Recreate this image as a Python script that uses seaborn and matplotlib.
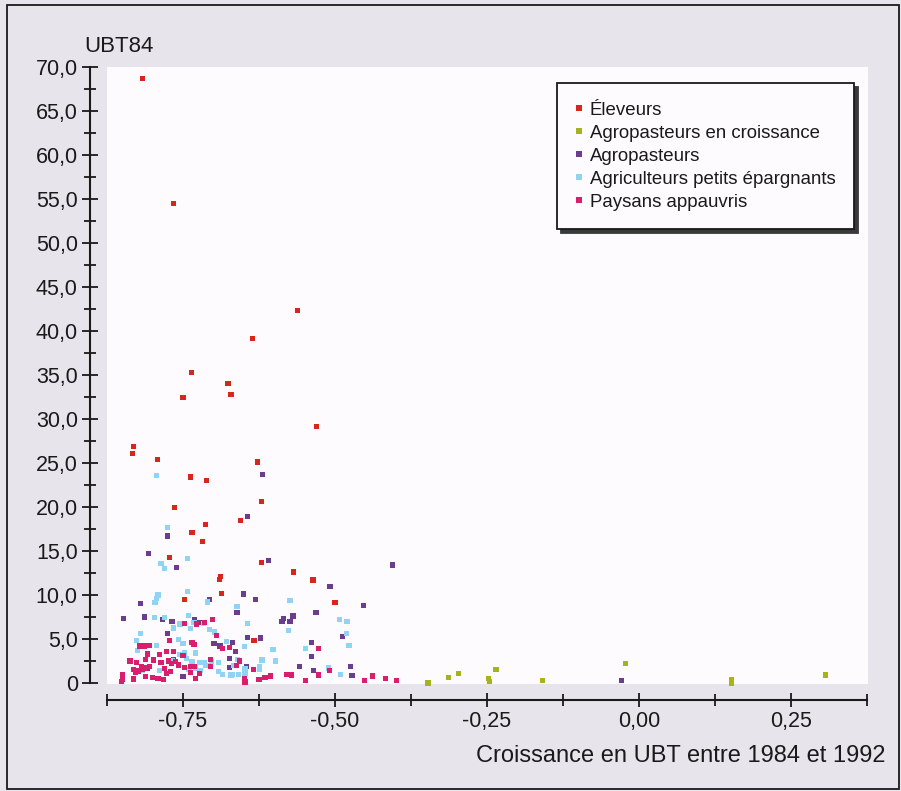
import numpy as np
import pandas as pd
import seaborn as sns
import matplotlib.pyplot as plt
from matplotlib.ticker import MultipleLocator, FuncFormatter
from matplotlib.lines import Line2D
from matplotlib.patches import Rectangle

# === Data ===
groupes = ["Éleveurs", "Agropasteurs en croissance", "Agropasteurs",
           "Agriculteurs petits épargnants", "Paysans appauvris"]
couleurs = ["#d8261c", "#a4b41a", "#6b3d8f", "#8fd3f5", "#da1e6e"]

eleveurs_x = [-0.816, -0.766, -0.562, -0.635, -0.736, -0.676, -0.671, -0.750, -0.530, -0.831,
              -0.833, -0.792, -0.627, -0.738, -0.711, -0.764, -0.621, -0.713, -0.656, -0.735,
              -0.718, -0.772, -0.621, -0.568, -0.536, -0.690, -0.688, -0.687, -0.747, -0.500,
              -0.633]
eleveurs_y = [68.7, 54.5, 42.3, 39.1, 35.3, 34.0, 32.8, 32.4, 29.1, 26.9,
              26.1, 25.4, 25.1, 23.4, 23.0, 19.9, 20.6, 18.0, 18.5, 17.1,
              16.1, 14.3, 13.7, 12.6, 11.7, 11.8, 12.1, 10.2, 9.5, 9.1,
              4.8]

croissance_x = [-0.347, -0.313, -0.297, -0.248, -0.246, -0.235, -0.158, -0.022, 0.152, 0.153, 0.307]
croissance_y = [0.0, 0.6, 1.1, 0.5, 0.2, 1.5, 0.3, 2.2, 0.4, 0.0, 0.9]

agro_x = [-0.619, -0.644, -0.775, -0.807, -0.760, -0.609, -0.508, -0.405, -0.650, -0.707,
          -0.631, -0.453, -0.820, -0.661, -0.531, -0.848, -0.813, -0.784, -0.768, -0.731,
          -0.722, -0.584, -0.587, -0.574, -0.569, -0.775, -0.644, -0.623, -0.488, -0.538,
          -0.538, -0.558, -0.535, -0.475, -0.472, -0.646, -0.664, -0.669, -0.674, -0.689,
          -0.699, -0.673, -0.766, -0.808, -0.750, -0.029]
agro_y = [23.7, 18.9, 16.7, 14.7, 13.1, 13.9, 11.0, 13.4, 10.1, 9.5,
          9.5, 8.8, 9.0, 8.0, 8.0, 7.3, 7.5, 7.2, 7.0, 7.2,
          6.9, 7.3, 7.0, 7.0, 7.6, 5.6, 5.2, 5.1, 5.3, 4.6,
          3.0, 1.9, 1.4, 1.9, 0.85, 1.9, 3.6, 4.6, 2.8, 4.2,
          4.5, 1.8, 2.7, 1.6, 0.7, 0.3]

epargnants_x = [-0.794, -0.775, -0.743, -0.786, -0.780, -0.743, -0.791, -0.793, -0.796, -0.710,
                -0.574, -0.661, -0.797, -0.780, -0.741, -0.732, -0.716, -0.755, -0.644, -0.492,
                -0.480, -0.577, -0.766, -0.738, -0.707, -0.698, -0.820, -0.481, -0.477, -0.678,
                -0.649, -0.548, -0.602, -0.620, -0.598, -0.660, -0.667, -0.669, -0.658, -0.648,
                -0.648, -0.624, -0.624, -0.510, -0.491, -0.826, -0.758, -0.750, -0.793, -0.825,
                -0.756, -0.748, -0.744, -0.729, -0.816, -0.768, -0.735, -0.722, -0.714, -0.740,
                -0.729, -0.722, -0.789, -0.712, -0.703, -0.692, -0.691, -0.685, -0.671]
epargnants_y = [23.6, 17.7, 14.1, 13.6, 13.0, 10.4, 10.0, 9.6, 9.1, 9.2,
                9.4, 8.7, 7.4, 7.4, 7.7, 6.9, 6.8, 6.7, 6.8, 7.2,
                7.0, 6.0, 6.25, 6.2, 6.1, 5.8, 5.6, 5.6, 4.3, 4.7,
                4.1, 3.9, 3.8, 2.6, 2.5, 2.7, 2.0, 1.0, 1.0, 1.6,
                1.1, 1.9, 1.5, 1.7, 1.0, 4.85, 4.9, 4.5, 4.3, 3.7,
                3.2, 3.4, 2.8, 3.4, 1.4, 2.5, 2.4, 2.35, 2.35, 1.5,
                1.7, 1.4, 1.4, 2.0, 2.4, 2.3, 1.3, 0.95, 0.9]

paysans_x = [-0.747, -0.728, -0.715, -0.702, -0.695, -0.685, -0.674, -0.772, -0.735, -0.732,
             -0.822, -0.813, -0.805, -0.808, -0.788, -0.777, -0.766, -0.750, -0.837, -0.826,
             -0.818, -0.811, -0.805, -0.798, -0.786, -0.774, -0.769, -0.762, -0.757, -0.747,
             -0.738, -0.731, -0.723, -0.738, -0.831, -0.828, -0.823, -0.817, -0.812, -0.780,
             -0.777, -0.771, -0.850, -0.850, -0.851, -0.831, -0.812, -0.800, -0.791, -0.782,
             -0.730, -0.705, -0.705, -0.662, -0.657, -0.649, -0.648, -0.634, -0.625, -0.615,
             -0.606, -0.579, -0.572, -0.549, -0.527, -0.527, -0.509, -0.451, -0.438, -0.417,
             -0.399]
paysans_y = [6.8, 6.7, 6.85, 7.2, 5.4, 3.9, 4.0, 4.85, 4.6, 4.4,
             4.2, 4.2, 4.3, 3.3, 3.2, 3.6, 3.6, 3.1, 2.5, 2.35,
             1.85, 2.7, 1.9, 2.6, 2.3, 2.5, 2.2, 2.4, 2.05, 1.8,
             1.9, 1.85, 1.1, 1.2, 1.55, 1.2, 1.35, 1.5, 1.7, 1.6,
             1.1, 1.3, 0.9, 0.4, 0.15, 0.45, 0.7, 0.6, 0.5, 0.4,
             0.5, 2.7, 1.9, 2.0, 2.5, 0.5, 0.1, 1.5, 0.4, 0.6,
             0.8, 1.0, 0.9, 0.3, 3.9, 0.9, 1.4, 0.3, 0.8, 0.5,
             0.3]

series = [(eleveurs_x, eleveurs_y), (croissance_x, croissance_y), (agro_x, agro_y),
          (epargnants_x, epargnants_y), (paysans_x, paysans_y)]
df = pd.concat([pd.DataFrame({"x": sx, "y": sy, "groupe": g})
                for g, (sx, sy) in zip(groupes, series)], ignore_index=True)

# === Style ===
sns.set_style("white")
plt.rcParams["font.family"] = ["Liberation Sans", "DejaVu Sans"]
fond = "#e7e4eb"
encre = "#1a1a1a"

fig = plt.figure(figsize=(9.01, 7.91), dpi=100, facecolor=fond)
ax = fig.add_axes([107 / 901, 1 - 684 / 791, 761 / 901, 617 / 791])
ax.set_facecolor("#fdfbfd")

sns.scatterplot(data=df, x="x", y="y", hue="groupe", hue_order=groupes,
                palette=dict(zip(groupes, couleurs)), marker="s", s=14,
                linewidth=0, legend=False, ax=ax, clip_on=False)

ax.set_xlim(-0.875, 0.377)
ax.set_ylim(-0.12, 70)
sns.despine(ax=ax, offset={"left": 12, "bottom": 11.5})
ax.spines["left"].set_bounds(0, 70)
ax.spines["bottom"].set_bounds(-0.875, 0.375)
for s in ("left", "bottom"):
    ax.spines[s].set_linewidth(1.5)
    ax.spines[s].set_color(encre)

ax.xaxis.set_major_locator(MultipleLocator(0.25))
ax.xaxis.set_minor_locator(MultipleLocator(0.125))
ax.yaxis.set_major_locator(MultipleLocator(5))
ax.yaxis.set_minor_locator(MultipleLocator(2.5))
ax.xaxis.set_major_formatter(FuncFormatter(lambda v, p: f"{v:.2f}".replace(".", ",").replace("-0,00", "0,00")))
ax.yaxis.set_major_formatter(FuncFormatter(lambda v, p: "0" if abs(v) < 1e-9 else f"{v:.1f}".replace(".", ",")))
ax.tick_params(which="both", bottom=True, left=True, top=False, right=False)
ax.tick_params(which="major", direction="inout", length=12, width=1.3, color=encre,
               labelsize=15.5, labelcolor=encre, pad=3)
ax.tick_params(which="minor", direction="inout", length=8, width=1.3, color=encre)
ax.tick_params(axis="x", which="major", length=10)
ax.set_xlabel("")
ax.set_ylabel("")

fig.text(84 / 901, 1 - 47 / 791, "UBT84", ha="left", va="center", fontsize=16, color=encre)
fig.text(886 / 901, 1 - 756 / 791, "Croissance en UBT entre 1984 et 1992", ha="right",
         va="center", fontsize=17, color=encre)

# === Legend ===
handles = [Line2D([], [], marker="s", linestyle="", markersize=3.8, markerfacecolor=c,
                  markeredgewidth=0, label=g) for g, c in zip(groupes, couleurs)]
leg = ax.legend(handles=handles, loc="upper right", bbox_to_anchor=(0.982, 0.974),
                borderaxespad=0, fontsize=13.4, frameon=True, fancybox=False,
                handlelength=0.3, handletextpad=0.45, labelspacing=0.32, borderpad=1.0,
                shadow={"color": "#3a3a3a", "alpha": 1, "ox": 2.5, "oy": -2.5})
leg.get_frame().set_edgecolor(encre)
leg.get_frame().set_linewidth(1.3)
leg.get_frame().set_facecolor("#fdfbfd")
for t in leg.get_texts():
    t.set_color(encre)

# figure border
fig.patches.append(Rectangle((7 / 901, 2 / 791), 892 / 901, 784 / 791, transform=fig.transFigure,
                             fill=False, edgecolor=encre, linewidth=1.3))

fig.savefig("out.png", dpi=100, facecolor=fond)
